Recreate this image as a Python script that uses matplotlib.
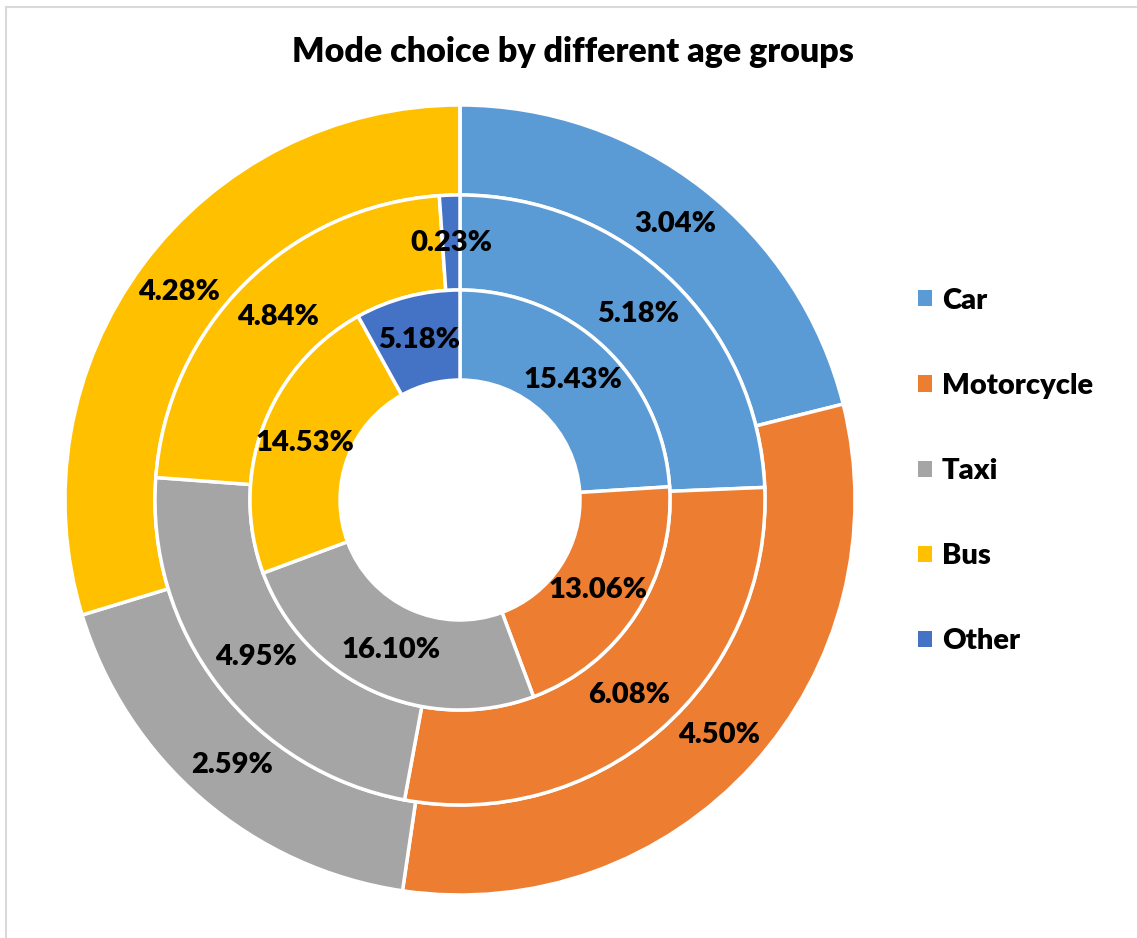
import matplotlib.pyplot as plt
from matplotlib.lines import Line2D
from matplotlib.patches import Patch
import numpy as np

plt.rcParams['font.family'] = ['Lato', 'DejaVu Sans']
plt.rcParams['font.weight'] = 800

modes = ['Car', 'Motorcycle', 'Taxi', 'Bus', 'Other']
colors = ['#5B9BD5', '#ED7D31', '#A5A5A5', '#FFC000', '#4472C4']

# share of all trips (%) per age group, one ring each
inner = [15.43, 13.06, 16.10, 14.53, 5.18]
middle = [5.18, 6.08, 4.95, 4.84, 0.23]
outer = [3.04, 4.50, 2.59, 4.28, 0.0]

W, H = 1137, 938
fig = plt.figure(figsize=(W / 100, H / 100), dpi=100)

# chart area border (top and left edges only show)
fig.add_artist(Line2D([6 / W, 1136 / W], [1 - 7 / H, 1 - 7 / H],
                      color='#d9d9d9', lw=1.5))
fig.add_artist(Line2D([6 / W, 6 / W], [0, 1 - 7 / H],
                      color='#d9d9d9', lw=1.5))

cx, cy, R = 460, 500, 395
ax = fig.add_axes([(cx - R) / W, 1 - (cy + R) / H, 2 * R / W, 2 * R / H])

radii = [1.0, 305 / R, 210 / R, 120 / R]
for i, vals in enumerate([outer, middle, inner]):
    r, width = radii[i], radii[i] - radii[i + 1]
    wedges, _ = ax.pie(vals, colors=colors, radius=r, startangle=90,
                       counterclock=False,
                       wedgeprops=dict(width=width, edgecolor='white',
                                       linewidth=2.5))
    for w, v in zip(wedges, vals):
        if v == 0:
            continue
        ang = np.deg2rad((w.theta1 + w.theta2) / 2)
        rm = r - width / 2
        ax.text(rm * np.cos(ang), rm * np.sin(ang), '%.2f%%' % v,
                ha='center', va='center', fontsize=21, fontweight=800)

ax.set_xlim(-1, 1)
ax.set_ylim(-1, 1)
ax.set_aspect('equal')
ax.axis('off')

fig.text(573 / W, 1 - 52 / H, 'Mode choice by different age groups',
         ha='center', va='center', fontsize=24.5, fontweight=800)

handles = [Patch(facecolor=c, edgecolor='none') for c in colors]
fig.legend(handles, modes, loc='center left',
           bbox_to_anchor=(892 / W, 1 - 471 / H), frameon=False,
           prop=dict(size=21, weight=800), handlelength=0.48,
           handleheight=0.48, handletextpad=0.33, labelspacing=2.03)

fig.savefig('out.png', dpi=100)
